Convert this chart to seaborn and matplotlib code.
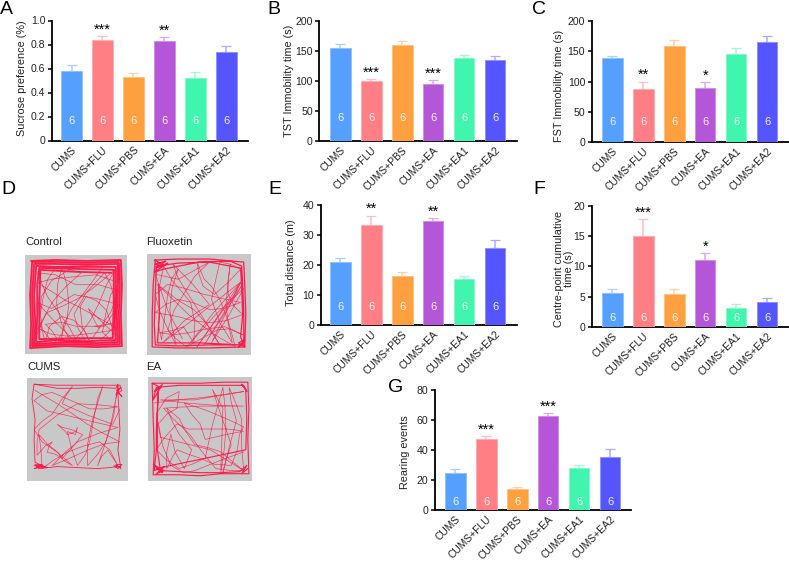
import numpy as np
import pandas as pd
import matplotlib
matplotlib.use('Agg')
import matplotlib.pyplot as plt
from matplotlib.colors import to_rgb
import seaborn as sns

sns.set_style('white')
plt.rcParams['font.family'] = ['Liberation Sans', 'DejaVu Sans']
plt.rcParams['text.color'] = '#222222'

W, H = 789, 561

groups = ['CUMS', 'CUMS+FLU', 'CUMS+PBS', 'CUMS+EA', 'CUMS+EA1', 'CUMS+EA2']
colors = ['#559FFF', '#FF7F84', '#FFA040', '#B556D8', '#40F5AE', '#5555FF']
n_per_group = ['6', '6', '6', '6', '6', '6']

# bar values and upper end of the error bars
sucrose = [0.58, 0.84, 0.53, 0.83, 0.52, 0.74]
sucrose_top = [0.63, 0.87, 0.565, 0.86, 0.57, 0.785]
sucrose_sig = ['', '***', '', '**', '', '']

tst = [155, 100, 160, 94, 138, 135]
tst_top = [161, 103, 166, 101, 143, 141]
tst_sig = ['', '***', '', '***', '', '']

fst = [139, 88, 159, 90, 145, 165]
fst_top = [142, 100, 168, 99, 155, 176]
fst_sig = ['', '**', '', '*', '', '']

distance = [21, 33.5, 16.5, 34.7, 15.3, 25.7]
distance_top = [22.3, 36.5, 17.7, 35.7, 16.3, 28.2]
distance_sig = ['', '**', '', '**', '', '']

centre = [5.6, 15, 5.5, 11.1, 3.1, 4.1]
centre_top = [6.2, 17.8, 6.2, 12.2, 3.7, 4.7]
centre_sig = ['', '***', '', '*', '', '']

rearing = [25, 47.5, 14, 63, 28, 35.5]
rearing_top = [27.7, 49.5, 15.3, 64.5, 30.2, 41]
rearing_sig = ['', '***', '', '***', '', '']

# open field tracks, arena scaled 0-100, y going down
control_rim = [(6, 6), (30, 5), (60, 6), (94, 5), (95, 30), (94, 60), (95, 92), (70, 93), (40, 92), (5, 94),
               (6, 70), (5, 40), (7, 7), (30, 7), (60, 8), (92, 7), (93, 30), (92, 60), (93, 90), (70, 91),
               (40, 90), (7, 92), (8, 70), (7, 40), (9, 9), (30, 9), (60, 10), (91, 9), (91, 30), (90, 60),
               (91, 88), (70, 89), (40, 88), (9, 90), (10, 70), (9, 40), (11, 11), (30, 12), (60, 12), (89, 12),
               (89, 40), (88, 70), (89, 86), (60, 87), (30, 86), (11, 88), (12, 60), (12, 30), (14, 13),
               (50, 14), (87, 15), (87, 50), (86, 84), (50, 84), (14, 85), (14, 50), (15, 15), (50, 17), (85, 18)]
control_path = [(6, 95), (12, 80), (20, 60), (28, 46), (40, 32), (55, 18), (42, 14), (30, 13), (22, 25), (18, 42),
                (15, 60), (17, 75), (28, 90), (36, 80), (41, 66), (43, 50), (41, 30), (36, 12), (32, 30), (31, 50),
                (36, 70), (45, 88), (54, 80), (64, 66), (72, 50), (80, 30), (89, 14), (78, 24), (66, 34), (52, 44),
                (36, 52), (22, 58), (12, 74), (26, 80), (42, 82), (58, 80), (74, 78), (92, 75), (80, 68), (66, 60),
                (52, 52), (40, 46), (28, 38), (12, 28), (28, 24), (48, 22), (70, 20), (92, 28), (84, 40), (79, 60),
                (76, 78), (88, 90), (85, 72), (80, 56), (70, 46), (60, 42), (54, 52), (56, 72), (65, 90), (58, 76),
                (48, 66), (36, 62), (24, 72), (20, 88), (14, 66), (16, 42), (26, 26), (48, 12), (62, 11), (76, 12),
                (68, 24), (58, 38), (46, 54), (38, 70), (35, 90), (26, 76), (20, 70), (36, 68), (50, 72), (70, 72),
                (92, 68), (82, 78), (74, 86), (60, 88), (52, 74), (48, 60), (60, 38), (78, 18), (84, 30), (88, 46),
                (90, 66), (90, 82), (70, 62), (62, 54), (72, 74), (74, 72), (68, 72), (78, 72), (92, 50), (70, 44),
                (48, 40), (26, 54), (12, 48), (28, 66), (48, 86), (66, 84), (84, 58), (92, 36), (72, 30), (50, 30),
                (30, 20), (12, 18), (22, 42), (44, 74), (52, 90)]

fluoxetin_rim = [(7, 6), (30, 5), (60, 5), (93, 8), (94, 30), (95, 60), (94, 92), (60, 93), (30, 93), (5, 92),
                 (5, 60), (6, 30), (8, 6), (16, 12), (8, 10), (18, 7), (9, 14), (20, 9), (7, 18), (16, 15),
                 (50, 8), (80, 7), (91, 12), (92, 30), (93, 60), (93, 88), (88, 92), (94, 85), (88, 88), (94, 92),
                 (90, 82), (92, 60), (91, 32), (90, 14), (60, 8), (30, 9), (9, 12), (8, 40), (7, 70), (8, 90),
                 (30, 91), (60, 90), (90, 90), (50, 88), (10, 88), (12, 60), (11, 30)]
fluoxetin_path = [(92, 25), (74, 58), (55, 90), (74, 60), (92, 30), (70, 60), (48, 92), (68, 62), (90, 28), (76, 58),
                  (62, 88), (78, 62), (93, 34), (66, 60), (40, 90), (64, 58), (91, 27), (60, 52), (38, 70), (15, 88),
                  (36, 66), (60, 50), (44, 30), (25, 10), (30, 24), (36, 34), (52, 60), (70, 90), (58, 70), (45, 55),
                  (30, 46), (10, 30), (26, 46), (40, 60), (62, 78), (85, 92), (78, 66), (70, 45), (62, 32), (55, 25),
                  (48, 8), (50, 20), (54, 32), (65, 40), (78, 28), (90, 15), (80, 10), (70, 8), (66, 26), (62, 45),
                  (70, 68), (82, 88), (78, 68), (76, 50), (78, 28), (80, 10), (78, 26), (78, 40), (84, 52), (92, 60),
                  (76, 66), (60, 68), (44, 66), (30, 62), (8, 58), (18, 50), (30, 45), (44, 48), (60, 55), (74, 54),
                  (90, 48), (72, 44), (55, 40), (36, 34), (20, 30), (8, 40), (12, 56), (18, 70), (28, 90), (24, 72),
                  (22, 55), (24, 34), (30, 15), (24, 24), (20, 40), (17, 62), (14, 85), (11, 70), (12, 55), (12, 32),
                  (16, 12), (24, 26), (34, 38), (42, 48), (46, 68), (45, 88), (40, 80), (35, 72), (24, 76), (12, 78),
                  (26, 80), (40, 78), (58, 74), (75, 72), (92, 80), (80, 74), (68, 75), (52, 84), (38, 92), (28, 84),
                  (20, 75), (26, 56), (35, 40), (46, 22), (60, 8), (46, 16), (30, 25), (8, 20), (20, 56), (34, 84)]

cums_rim = [(7, 6), (28, 7), (50, 7), (72, 7), (92, 7), (94, 12), (88, 16), (93, 9), (89, 12), (94, 18), (90, 14),
            (92, 50), (90, 70), (93, 88), (88, 84), (94, 84), (90, 88), (86, 85), (92, 86), (70, 88), (50, 87),
            (30, 86), (12, 88), (8, 84), (18, 86), (7, 88), (15, 84), (7, 85), (20, 87), (8, 82), (7, 60), (8, 40),
            (5, 20), (7, 6), (30, 10), (50, 10), (70, 9), (88, 10), (90, 6), (88, 20), (91, 8)]
cums_path = [(8, 12), (18, 18), (30, 25), (44, 34), (60, 45), (76, 54), (92, 62), (76, 64), (60, 70), (42, 78),
             (25, 85), (38, 72), (50, 62), (70, 54), (90, 48), (72, 44), (55, 40), (38, 36), (20, 32), (7, 22),
             (15, 16), (25, 14), (44, 22), (62, 30), (76, 30), (90, 28), (70, 26), (50, 25), (30, 36), (12, 50),
             (10, 62), (10, 75), (18, 66), (25, 62), (22, 66), (20, 72), (28, 74), (35, 78), (46, 66), (55, 55),
             (44, 50), (35, 48), (30, 45), (38, 52), (40, 55), (48, 52), (50, 48), (48, 55), (40, 52), (44, 68),
             (50, 85), (58, 74), (62, 62), (66, 40), (70, 20), (75, 8), (70, 24), (65, 40), (60, 64), (60, 85),
             (70, 74), (78, 62), (84, 40), (88, 20), (86, 36), (82, 50), (76, 68), (70, 85), (74, 76), (80, 70),
             (90, 85), (82, 70), (72, 62), (56, 66), (40, 72), (26, 80), (15, 88), (14, 72), (12, 55), (20, 64),
             (30, 72), (36, 80), (45, 85), (30, 72), (15, 62), (7, 50), (15, 42), (25, 35), (35, 20), (45, 8),
             (38, 18), (35, 25), (60, 36), (85, 45), (92, 30)]

ea_rim = [(4, 6), (28, 6), (50, 6), (72, 5), (96, 5), (97, 30), (96, 60), (97, 93), (70, 93), (50, 95), (30, 94),
          (5, 94), (6, 70), (5, 40), (4, 6), (12, 10), (6, 14), (14, 7), (5, 22), (8, 10), (30, 8), (50, 8),
          (74, 8), (92, 8), (95, 14), (90, 7), (94, 12), (95, 40), (94, 70), (8, 88), (14, 92), (5, 84), (15, 90),
          (8, 93), (16, 86), (6, 90), (8, 70), (8, 50), (10, 12), (9, 40), (9, 70), (12, 90), (30, 91), (50, 92),
          (70, 92), (88, 91), (95, 85), (90, 93), (96, 88)]
ea_path = [(6, 25), (28, 22), (50, 20), (72, 17), (92, 14), (68, 18), (45, 22), (28, 22), (12, 22), (36, 25),
           (62, 27), (92, 28), (70, 28), (50, 28), (30, 29), (15, 30), (24, 40), (40, 55), (52, 72), (65, 88),
           (80, 90), (92, 90), (82, 82), (70, 72), (58, 68), (45, 65), (36, 52), (30, 40), (18, 30), (24, 44),
           (30, 55), (42, 70), (38, 80), (35, 88), (26, 72), (22, 55), (18, 72), (18, 88), (24, 76), (28, 70),
           (38, 74), (50, 78), (64, 84), (80, 85), (86, 70), (88, 55), (92, 48), (84, 44), (75, 40), (56, 32),
           (35, 25), (42, 36), (50, 45), (55, 60), (72, 56), (92, 52), (76, 50), (60, 50), (48, 50), (38, 50),
           (28, 45), (16, 58), (8, 70), (18, 80), (30, 88), (42, 84), (55, 78), (62, 46), (72, 10), (74, 28),
           (75, 50), (73, 72), (70, 92), (71, 60), (72, 30), (62, 12), (70, 36), (80, 65), (75, 80), (72, 92),
           (78, 68), (85, 42), (80, 24), (78, 10), (84, 24), (90, 40), (90, 66), (92, 90), (76, 80), (60, 70),
           (36, 64), (12, 58), (8, 35), (18, 20), (30, 14), (28, 30), (18, 36), (10, 45), (14, 66), (22, 85),
           (34, 92), (45, 90), (70, 80), (92, 72)]

arena_names = ['Control', 'Fluoxetin', 'CUMS', 'EA']
arena_rims = [control_rim, fluoxetin_rim, cums_rim, ea_rim]
arena_paths = [control_path, fluoxetin_path, cums_path, ea_path]
arena_rim_widths = [1.3, 0.9, 0.6, 0.8]

# pixel layout: left, right, top, bottom of axes and centre of first bar
panels = [
    dict(values=sucrose, tops=sucrose_top, sig=sucrose_sig, ylabel='Sucrose preference (%)', ymax=1.0,
         yticks=[0, 0.2, 0.4, 0.6, 0.8, 1.0], yfmt=['0', '0.2', '0.4', '0.6', '0.8', '1.0'],
         box=(52, 248, 20.5, 140.5), first=71.5, label_x=22, label_y=78, n_y=20),
    dict(values=tst, tops=tst_top, sig=tst_sig, ylabel='TST Immobility time (s)', ymax=200,
         yticks=[0, 50, 100, 150, 200], yfmt=['0', '50', '100', '150', '200'],
         box=(319.3, 516.7, 20.7, 141), first=340.3, label_x=289, label_y=81, n_y=23),
    dict(values=fst, tops=fst_top, sig=fst_sig, ylabel='FST Immobility time (s)', ymax=200,
         yticks=[0, 50, 100, 150, 200], yfmt=['0', '50', '100', '150', '200'],
         box=(591.7, 789, 21, 142), first=612.3, label_x=559, label_y=86, n_y=20),
    dict(values=distance, tops=distance_top, sig=distance_sig, ylabel='Total distance (m)', ymax=40,
         yticks=[0, 10, 20, 30, 40], yfmt=['0', '10', '20', '30', '40'],
         box=(320.7, 516.7, 205, 325.3), first=340.3, label_x=291, label_y=263, n_y=18),
    dict(values=centre, tops=centre_top, sig=centre_sig, ylabel='Centre-point cumulative\ntime (s)', ymax=20,
         yticks=[0, 5, 10, 15, 20], yfmt=['0', '5', '10', '15', '20'],
         box=(591.7, 789, 206, 326.7), first=612.3, label_x=564, label_y=269, n_y=9),
    dict(values=rearing, tops=rearing_top, sig=rearing_sig, ylabel='Rearing events', ymax=80,
         yticks=[0, 20, 40, 60, 80], yfmt=['0', '20', '40', '60', '80'],
         box=(434.7, 630.7, 390, 510.3), first=455.3, label_x=405, label_y=452, n_y=8),
]
arena_boxes = [(25, 127, 255, 354), (147, 251, 254, 355), (27, 128, 378, 481), (148, 252, 377, 481)]
arena_label_pos = [(25, 242), (146, 242), (27, 367), (146, 367)]
panel_letters = [('A', 0, 9), ('B', 267, 9), ('C', 532, 10), ('D', 1, 190), ('E', 268, 190), ('F', 533, 190), ('G', 388, 388)]
bar_spacing = 30.95


def lighter(c, amount=0.5):
    rgb = np.array(to_rgb(c))
    return tuple(rgb + (1 - rgb) * amount)


def px_axes(fig, left, right, top, bottom):
    return fig.add_axes([left / W, 1 - bottom / H, (right - left) / W, (bottom - top) / H])


def draw_bars(fig, p):
    left, right, top, bottom = p['box']
    ax = px_axes(fig, left, right, top, bottom)
    df = pd.DataFrame({'group': groups, 'value': p['values']})
    sns.barplot(data=df, x='group', y='value', hue='group', palette=colors, dodge=False, width=0.667,
                saturation=1, errorbar=None, legend=False, ax=ax, zorder=3)
    for bar, c in zip(ax.patches, colors):
        bar.set_edgecolor(lighter(c, 0.35))
        bar.set_linewidth(0.7)
    for i, c in enumerate(colors):
        err = p['tops'][i] - p['values'][i]
        ax.errorbar(i, p['values'][i], yerr=[[0], [err]], color=lighter(c, 0.5), elinewidth=1.1,
                    capsize=3.6, capthick=0.9, zorder=2, clip_on=False)
        ax.annotate(n_per_group[i], (i, 0), xytext=(0, p['n_y'] * 0.72), textcoords='offset points',
                    ha='center', va='center', color='white', fontsize=8, alpha=0.9, zorder=5)
        if p['sig'][i]:
            ax.annotate(p['sig'][i], (i, p['tops'][i]), xytext=(0, 4.6), textcoords='offset points',
                        ha='center', va='center', color='black', fontsize=10.5, annotation_clip=False)
    ax.set_xlim(-(p['first'] - left) / bar_spacing, (right - p['first']) / bar_spacing)
    ax.set_ylim(0, p['ymax'])
    ax.set_yticks(p['yticks'])
    ax.set_yticklabels(p['yfmt'], fontsize=7.6, color='#222222')
    ax.set_xticks(range(len(groups)))
    ax.set_xticklabels(groups, rotation=45, ha='right', va='top', rotation_mode='anchor',
                       fontsize=7.4, color='#222222')
    ax.tick_params(axis='y', length=3.2, width=1.1, color='black', pad=1.5, left=True)
    ax.tick_params(axis='x', length=0, pad=3)
    sns.despine(ax=ax)
    for side in ['left', 'bottom']:
        ax.spines[side].set_linewidth(1.3)
        ax.spines[side].set_color('black')
    ax.set_xlabel('')
    ax.set_ylabel('')
    ax.patch.set_alpha(0)
    fig.text(p['label_x'] / W, 1 - p['label_y'] / H, p['ylabel'], rotation=90, ha='center', va='center',
             fontsize=7.8, color='#222222', linespacing=1.05, multialignment='center')


def draw_arena(fig, box, rim, path, rim_width):
    ax = px_axes(fig, *box)
    ax.set_facecolor('#C8C8C8')
    track = '#FF1A4B'
    rim_xy = np.array(rim)
    path_xy = np.array(path)
    sns.lineplot(x=rim_xy[:, 0], y=rim_xy[:, 1], sort=False, estimator=None, color=track,
                 linewidth=rim_width, ax=ax)
    sns.lineplot(x=path_xy[:, 0], y=path_xy[:, 1], sort=False, estimator=None, color=track,
                 linewidth=0.5, alpha=0.8, ax=ax)
    ax.set_xlim(0, 100)
    ax.set_ylim(100, 0)
    ax.set_xticks([])
    ax.set_yticks([])
    ax.set_xlabel('')
    ax.set_ylabel('')
    for s in ax.spines.values():
        s.set_visible(False)


fig = plt.figure(figsize=(W / 100, H / 100), dpi=100)

for p in panels:
    draw_bars(fig, p)

for box, rim, path, width in zip(arena_boxes, arena_rims, arena_paths, arena_rim_widths):
    draw_arena(fig, box, rim, path, width)

for name, (x, y) in zip(arena_names, arena_label_pos):
    fig.text(x / W, 1 - y / H, name, ha='left', va='center', fontsize=8.2, color='#222222')

for letter, x, y in panel_letters:
    fig.text(x / W, 1 - y / H, letter, ha='left', va='center', fontsize=14, color='black')

fig.savefig('out.png', dpi=100)
